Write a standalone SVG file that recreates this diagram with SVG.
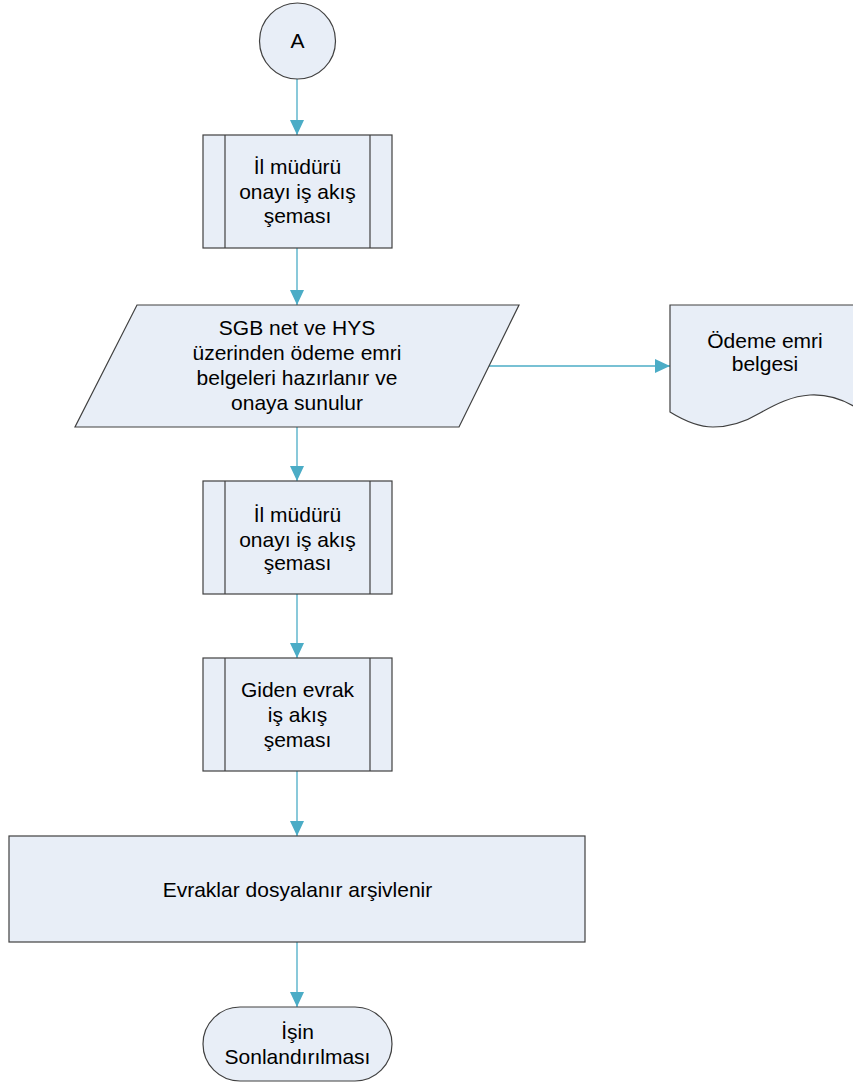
<svg xmlns="http://www.w3.org/2000/svg" width="853" height="1085" viewBox="0 0 853 1085">
  <style>
    .shape { fill: #E8EEF7; stroke: #404040; stroke-width: 1.2; }
    .inner { fill: none; stroke: #404040; stroke-width: 1.2; }
    .lbl { font-family: "Liberation Sans", Arial, sans-serif; font-size: 21px; fill: #000; text-anchor: middle; }
    .conn { stroke: #4BACC6; stroke-width: 1.3; fill: none; }
  </style>
  <defs>
    <marker id="arrow" viewBox="0 0 15 14" refX="15" refY="7" markerWidth="15" markerHeight="14" markerUnits="userSpaceOnUse" orient="auto">
      <path d="M0,0 L15,7 L0,14 Z" fill="#4BACC6"/>
    </marker>
  </defs>
  <rect width="853" height="1085" fill="#FFFFFF"/>

  <g id="connectors">
    <line class="conn" x1="297" y1="79" x2="297" y2="135" marker-end="url(#arrow)"/>
    <line class="conn" x1="297" y1="248" x2="297" y2="305" marker-end="url(#arrow)"/>
    <line class="conn" x1="297" y1="427" x2="297" y2="481" marker-end="url(#arrow)"/>
    <line class="conn" x1="297" y1="594" x2="297" y2="658" marker-end="url(#arrow)"/>
    <line class="conn" x1="297" y1="771" x2="297" y2="836" marker-end="url(#arrow)"/>
    <line class="conn" x1="297" y1="942" x2="297" y2="1007" marker-end="url(#arrow)"/>
    <line class="conn" x1="489" y1="366" x2="670" y2="366" marker-end="url(#arrow)"/>
  </g>

  <g id="node-a">
    <circle class="shape" cx="297.5" cy="41" r="38"/>
    <text class="lbl" x="297.5" y="48">A</text>
  </g>

  <g id="node-il-muduru-1">
    <rect class="shape" x="203" y="135" width="189" height="113"/>
    <line class="inner" x1="225" y1="135" x2="225" y2="248"/>
    <line class="inner" x1="370" y1="135" x2="370" y2="248"/>
    <text class="lbl" x="297.5" y="173.5">İl müdürü</text>
    <text class="lbl" x="297.5" y="198.5">onayı iş akış</text>
    <text class="lbl" x="297.5" y="222.5">şeması</text>
  </g>

  <g id="node-sgb">
    <polygon class="shape" points="137,305 519,305 459,427 75,427"/>
    <text class="lbl" x="297" y="335">SGB net ve HYS</text>
    <text class="lbl" x="297" y="360">üzerinden ödeme emri</text>
    <text class="lbl" x="297" y="385">belgeleri hazırlanır ve</text>
    <text class="lbl" x="297" y="409.5">onaya sunulur</text>
  </g>

  <g id="node-odeme-emri">
    <path class="shape" d="M670,305 L860,305 L860,410 C845,400 828,394 810,395 C792,396 776,404 760,413 C745,422 730,427 713,427 C697,427 683,420 670,412 Z"/>
    <text class="lbl" x="765" y="347.5">Ödeme emri</text>
    <text class="lbl" x="765" y="371">belgesi</text>
  </g>

  <g id="node-il-muduru-2">
    <rect class="shape" x="203" y="481" width="189" height="113"/>
    <line class="inner" x1="225" y1="481" x2="225" y2="594"/>
    <line class="inner" x1="370" y1="481" x2="370" y2="594"/>
    <text class="lbl" x="297.5" y="521.5">İl müdürü</text>
    <text class="lbl" x="297.5" y="546.5">onayı iş akış</text>
    <text class="lbl" x="297.5" y="570">şeması</text>
  </g>

  <g id="node-giden-evrak">
    <rect class="shape" x="203" y="658" width="189" height="113"/>
    <line class="inner" x1="225" y1="658" x2="225" y2="771"/>
    <line class="inner" x1="370" y1="658" x2="370" y2="771"/>
    <text class="lbl" x="297.5" y="697">Giden evrak</text>
    <text class="lbl" x="297.5" y="722">iş akış</text>
    <text class="lbl" x="297.5" y="746.5">şeması</text>
  </g>

  <g id="node-evraklar">
    <rect class="shape" x="9" y="836" width="576" height="106"/>
    <text class="lbl" x="297.5" y="897">Evraklar dosyalanır arşivlenir</text>
  </g>

  <g id="node-son">
    <rect class="shape" x="203" y="1007" width="189" height="74" rx="37" ry="37"/>
    <text class="lbl" x="297.5" y="1038.5">İşin</text>
    <text class="lbl" x="297.5" y="1064">Sonlandırılması</text>
  </g>
</svg>
